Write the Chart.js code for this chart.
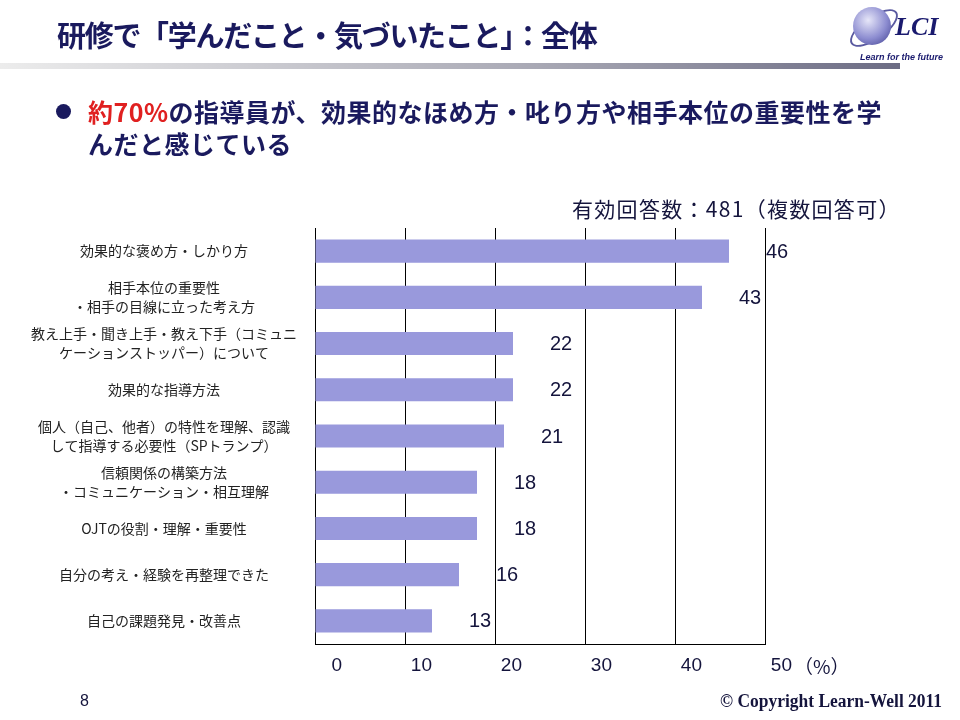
<!DOCTYPE html>
<html lang="ja">
<head>
<meta charset="utf-8">
<script src="https://cdn.jsdelivr.net/npm/chart.js@4.4.1/dist/chart.umd.min.js"></script>
<style>
    html, body { margin: 0; padding: 0; background: #fff; }
    #slide { position: relative; width: 960px; height: 720px; overflow: hidden; background: #fff; }
    #chart { position: absolute; left: 0; top: 0; }
    .abs { position: absolute; white-space: nowrap; }
    #title { left: 57px; top: 13px; font: bold 29px "Noto Sans CJK JP", sans-serif; color: #1a1a5e; letter-spacing: -1.3px; }
    #rule { left: 0; top: 63px; width: 900px; height: 6px; background: linear-gradient(to right, #ececec, #a8a8b4 60%, #6c6c84); }
    #bullet { left: 56px; top: 95px; font: bold 25px "Noto Sans CJK JP", sans-serif; color: #1a1a5e; line-height: 32px; letter-spacing: 0.5px; }
    #bullet .red { color: #e02020; }
    #bullet .dot { display: inline-block; width: 15px; height: 15px; border-radius: 50%; background: #1a1a5e; margin-right: 17px; vertical-align: 3px; }
    #bullet .line2 { padding-left: 32px; }
    #note { left: 572px; top: 193px; font: 21px "Noto Sans CJK JP", sans-serif; color: #14143c; letter-spacing: 1.3px; }
    #pct { left: 794px; top: 652px; font: 19px "Noto Sans CJK JP", sans-serif; color: #14143c; }
    #page { left: 80px; top: 692px; font: 16px "Liberation Sans", Arial, sans-serif; color: #14143c; }
    #copy { left: 720px; top: 691px; font: bold 18px "Liberation Serif", serif; color: #14143c; transform: scaleX(0.97); transform-origin: left center; }
    #logo-ball { left: 853px; top: 7px; width: 38px; height: 38px; border-radius: 50%; background: radial-gradient(circle at 40% 35%, #e6e6f8, #8c8cd0 55%, #3c3c8c); }
    #logo-ring { left: 846px; top: 16px; width: 52px; height: 20px; border: 2px solid #5a5aa0; border-radius: 50%; transform: rotate(-35deg); }
    #logo-text { left: 895px; top: 12px; font: italic bold 26px "Liberation Serif", serif; color: #1a1a6e; }
    #logo-sub { left: 860px; top: 52px; font: italic bold 9px "Liberation Sans", Arial, sans-serif; color: #1a1a6e; }
</style>
</head>
<body>
<div id="slide">
    <canvas id="chart" width="960" height="720"></canvas>
    <div class="abs" id="title">研修で「学んだこと・気づいたこと」：全体</div>
    <div class="abs" id="rule"></div>
    <div class="abs" id="logo-ring"></div>
    <div class="abs" id="logo-ball"></div>
    <div class="abs" id="logo-text">LCI</div>
    <div class="abs" id="logo-sub">Learn for the future</div>
    <div class="abs" id="bullet"><span class="dot"></span><span class="red">約70%</span>の指導員が、効果的なほめ方・叱り方や相手本位の重要性を学<br><span class="line2">んだと感じている</span></div>
    <div class="abs" id="note">有効回答数：481（複数回答可）</div>
    <div class="abs" id="pct">（%）</div>
    <div class="abs" id="page">8</div>
    <div class="abs" id="copy">© Copyright Learn-Well 2011</div>
</div>
<script>
// Data
const categories = [
    '効果的な褒め方・しかり方',
    ['相手本位の重要性', '・相手の目線に立った考え方'],
    ['教え上手・聞き上手・教え下手（コミュニ', 'ケーションストッパー）について'],
    '効果的な指導方法',
    ['個人（自己、他者）の特性を理解、認識', 'して指導する必要性（SPトランプ）'],
    ['信頼関係の構築方法', '・コミュニケーション・相互理解'],
    'OJTの役割・理解・重要性',
    '自分の考え・経験を再整理できた',
    '自己の課題発見・改善点'
];
const values = [46, 43, 22, 22, 21, 18, 18, 16, 13];
const tickValues = [0, 10, 20, 30, 40, 50];

// Value labels to the right of each bar
const valueLabels = {
    id: 'valueLabels',
    afterDatasetsDraw(chart) {
        const ctx = chart.ctx;
        const meta = chart.getDatasetMeta(0);
        ctx.save();
        ctx.font = '20px "Liberation Sans", Arial, sans-serif';
        ctx.fillStyle = '#14143c';
        ctx.textAlign = 'left';
        ctx.textBaseline = 'middle';
        meta.data.forEach((bar, i) => {
            ctx.fillText(String(values[i]), bar.x + 37, bar.y + 1);
        });
        ctx.restore();
    }
};

const ctx = document.getElementById('chart').getContext('2d');
new Chart(ctx, {
    type: 'bar',
    data: {
        labels: categories,
        datasets: [{
            data: values,
            backgroundColor: 'rgb(153, 153, 220)',
            borderWidth: 0,
            barPercentage: 0.5,
            categoryPercentage: 1.0
        }]
    },
    options: {
        indexAxis: 'y',
        responsive: false,
        animation: false,
        layout: {
            padding: { left: 0, right: 195, top: 228, bottom: 0 }
        },
        plugins: {
            legend: { display: false },
            tooltip: { enabled: false }
        },
        scales: {
            x: {
                min: tickValues[0],
                max: tickValues[tickValues.length - 1],
                afterBuildTicks: function(scale) {
                    scale.ticks = tickValues.map(v => ({ value: v }));
                },
                afterFit: function(scale) {
                    scale.height = 76;
                },
                ticks: {
                    align: 'end',
                    labelOffset: 27,
                    padding: 10,
                    color: '#14143c',
                    font: { family: '"Liberation Sans", Arial, sans-serif', size: 19 }
                },
                grid: {
                    color: '#000',
                    lineWidth: 1,
                    drawTicks: false
                },
                border: { color: '#000', width: 1 }
            },
            y: {
                afterFit: function(scale) {
                    scale.width = 315;
                },
                ticks: {
                    crossAlign: 'center',
                    padding: 18,
                    color: '#222',
                    font: { family: '"Noto Sans CJK JP", sans-serif', size: 14, lineHeight: 1.35 }
                },
                grid: { display: false, drawTicks: false },
                border: { display: true, color: '#000', width: 1 }
            }
        }
    },
    plugins: [valueLabels]
});
</script>
</body>
</html>
